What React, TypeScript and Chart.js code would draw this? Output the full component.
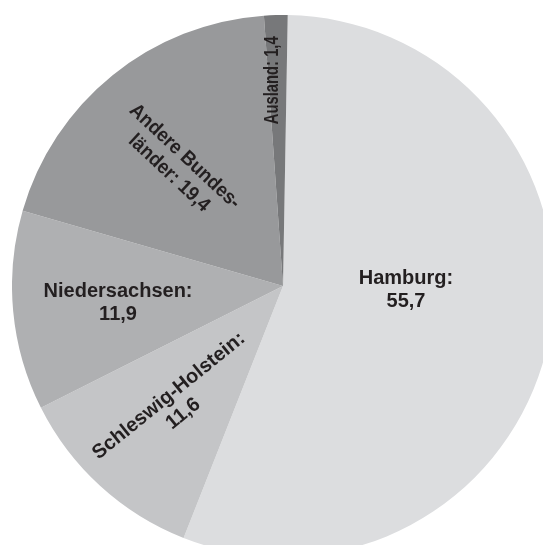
import React, { useEffect, useRef } from "react";
import { Chart, registerables } from "chart.js";

Chart.register(...registerables);

const categories = ["Hamburg", "Schleswig-Holstein", "Niedersachsen", "Andere Bundesländer", "Ausland"];
const values = [55.7, 11.6, 11.9, 19.4, 1.4];
const labelLines = [
  ["Hamburg:", "55,7"],
  ["Schleswig-Holstein:", "11,6"],
  ["Niedersachsen:", "11,9"],
  ["Andere Bundes-", "länder: 19,4"],
  ["Ausland: 1,4"],
];
const colors = ["#dcdddf", "#c4c5c7", "#afb0b2", "#98999b", "#77787a"];
// label placement: polar angle (deg clockwise from top), radius fraction, rotation (deg), horizontal squeeze
const labelAngles = [91.9, 222, 264.1, 318.8, 357.2];
const labelRadii = [0.454, 0.59, 0.612, 0.594, 0.76];
const labelRotations = [0, -39, 0, 43, -90];
const labelSqueeze = [1, 1, 1, 0.93, 0.74];

const labelPlugin = {
  id: "sliceLabels",
  afterDatasetsDraw(chart: any) {
    const meta = chart.getDatasetMeta(0);
    const arc0 = meta.data[0];
    if (!arc0) return;
    const cx = arc0.x;
    const cy = arc0.y;
    const R = arc0.outerRadius;
    const ctx = chart.ctx;
    ctx.save();
    ctx.fillStyle = "#231f20";
    ctx.font = "bold 20px 'Liberation Sans', Arial, sans-serif";
    ctx.textAlign = "center";
    ctx.textBaseline = "middle";
    const lh = 23;
    labelLines.forEach((lines, i) => {
      const a = (labelAngles[i] * Math.PI) / 180;
      const r = labelRadii[i] * R;
      const x = cx + r * Math.sin(a);
      const y = cy - r * Math.cos(a);
      ctx.save();
      ctx.translate(x, y);
      ctx.rotate((labelRotations[i] * Math.PI) / 180);
      ctx.scale(labelSqueeze[i], 1);
      const n = lines.length;
      lines.forEach((t, j) => {
        ctx.fillText(t, 0, (j - (n - 1) / 2) * lh);
      });
      ctx.restore();
    });
    ctx.restore();
  },
};

export default function App() {
  const ref = useRef<HTMLCanvasElement>(null);
  useEffect(() => {
    if (!ref.current) return;
    const chart = new Chart(ref.current, {
      type: "pie",
      data: {
        labels: categories,
        datasets: [
          {
            data: values,
            backgroundColor: colors,
            borderWidth: 0,
          },
        ],
      },
      options: {
        responsive: false,
        animation: false,
        rotation: 1,
        layout: { padding: 0 },
        plugins: {
          legend: { display: false },
          tooltip: { enabled: false },
        },
      },
      plugins: [labelPlugin],
    });
    return () => chart.destroy();
  }, []);
  return (
    <div style={{ position: "fixed", left: 0, top: 0, width: 543, height: 545, overflow: "hidden", background: "#fff" }}>
      <canvas ref={ref} width={542} height={542} style={{ position: "absolute", left: 12, top: 15 }} />
    </div>
  );
}
